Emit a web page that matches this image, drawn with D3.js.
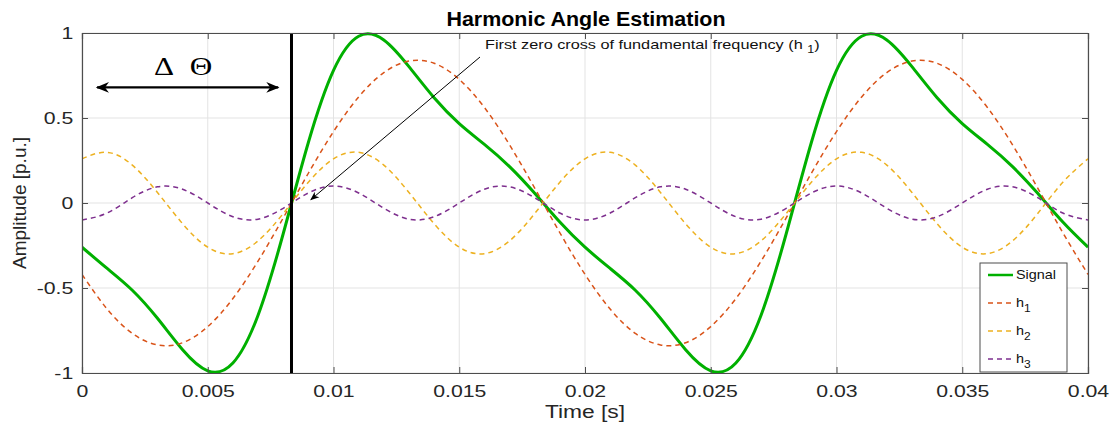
<!DOCTYPE html>
<html>
<head>
<meta charset="utf-8">
<script src="https://cdn.jsdelivr.net/npm/d3@7"></script>
<style>
body { margin: 0; background: #fff; }
text { font-family: "Liberation Sans", Arial, sans-serif; }
</style>
</head>
<body>
<div id="chart"></div>
<script>
// sample times (s), one per ms
const times = d3.range(41).map(k => k / 1000);

// values at each ms
const signal = [-0.26,-0.385,-0.513,-0.678,-0.863,-0.987,-0.941,-0.66,-0.181,0.356,0.78,0.981,0.959,0.802,0.619,0.467,0.345,0.214,0.057,-0.112,
  -0.26,-0.385,-0.513,-0.678,-0.863,-0.987,-0.941,-0.66,-0.181,0.356,0.78,0.981,0.959,0.802,0.619,0.467,0.345,0.214,0.057,-0.112,-0.26];
const h1 = [-0.42,-0.624,-0.767,-0.835,-0.822,-0.727,-0.562,-0.342,-0.088,0.175,0.42,0.624,0.767,0.835,0.822,0.727,0.562,0.342,0.088,-0.175,
  -0.42,-0.624,-0.767,-0.835,-0.822,-0.727,-0.562,-0.342,-0.088,0.175,0.42,0.624,0.767,0.835,0.822,0.727,0.562,0.342,0.088,-0.175,-0.42];
const h2 = [0.26,0.298,0.223,0.062,-0.122,-0.26,-0.298,-0.223,-0.062,0.122,0.26,0.298,0.223,0.062,-0.122,-0.26,-0.298,-0.223,-0.062,0.122,
  0.26,0.298,0.223,0.062,-0.122,-0.26,-0.298,-0.223,-0.062,0.122,0.26,0.298,0.223,0.062,-0.122,-0.26,-0.298,-0.223,-0.062,0.122,0.26];
const h3 = [-0.1,-0.059,0.031,0.095,0.081,0,-0.081,-0.095,-0.031,0.059,0.1,0.059,-0.031,-0.095,-0.081,0,0.081,0.095,0.031,-0.059,
  -0.1,-0.059,0.031,0.095,0.081,0,-0.081,-0.095,-0.031,0.059,0.1,0.059,-0.031,-0.095,-0.081,0,0.081,0.095,0.031,-0.059,-0.1];

const xTicks = [0, 0.005, 0.01, 0.015, 0.02, 0.025, 0.03, 0.035, 0.04];
const yTicks = [-1, -0.5, 0, 0.5, 1];
const zeroCross = 0.00833;

const series = [
  { name: "Signal", sub: "", values: signal, color: "#00b000", width: 3, dash: null },
  { name: "h", sub: "1", values: h1, color: "#D95319", width: 1.5, dash: "5,4" },
  { name: "h", sub: "2", values: h2, color: "#EDB120", width: 1.5, dash: "5,4" },
  { name: "h", sub: "3", values: h3, color: "#7E2F8E", width: 1.5, dash: "5,4" }
];

const W = 1117, H = 426;
const m = { left: 82, right: 29, top: 33, bottom: 53 };
const stretch = 1.25; // the original text is wider than it is tall

const svg = d3.select("#chart").append("svg")
  .attr("width", W).attr("height", H);

const x = d3.scaleLinear().domain([0, 0.04]).range([m.left, W - m.right]);
const y = d3.scaleLinear().domain([-1, 1]).range([H - m.bottom, m.top]);

// grid
svg.append("g").selectAll("line").data(xTicks).enter().append("line")
  .attr("x1", d => x(d)).attr("x2", d => x(d))
  .attr("y1", y(-1)).attr("y2", y(1))
  .style("stroke", "#e3e3e3");
svg.append("g").selectAll("line").data(yTicks).enter().append("line")
  .attr("x1", x(0)).attr("x2", x(0.04))
  .attr("y1", d => y(d)).attr("y2", d => y(d))
  .style("stroke", "#e3e3e3");

// curves
svg.append("clipPath").attr("id", "clip").append("rect")
  .attr("x", x(0)).attr("y", y(1) - 2).attr("width", x(0.04) - x(0)).attr("height", y(-1) - y(1) + 4);

const line = d3.line()
  .x((d, i) => x(times[i]))
  .y(d => y(d))
  .curve(d3.curveNatural);

const plot = svg.append("g").attr("clip-path", "url(#clip)");
series.forEach(s => {
  plot.append("path")
    .attr("d", line(s.values))
    .style("fill", "none")
    .style("stroke", s.color)
    .style("stroke-width", s.width)
    .style("stroke-dasharray", s.dash);
});

// zero-cross marker line
svg.append("line")
  .attr("x1", x(zeroCross)).attr("x2", x(zeroCross))
  .attr("y1", y(1)).attr("y2", y(-1))
  .style("stroke", "#000").style("stroke-width", 3);

// axes
const axisColor = "#262626";
const xAxis = svg.append("g").attr("transform", `translate(0,${y(-1)})`)
  .call(d3.axisBottom(x).tickValues(xTicks).tickSize(-6).tickPadding(12).tickFormat(d => String(+d.toFixed(3))));
const xAxisTop = svg.append("g").attr("transform", `translate(0,${y(1)})`)
  .call(d3.axisTop(x).tickValues(xTicks).tickSize(-6).tickFormat(""));
const yAxis = svg.append("g").attr("transform", `translate(${x(0)},0)`)
  .call(d3.axisLeft(y).tickValues(yTicks).tickSize(-6).tickPadding(7).tickFormat(d => String(d)));
const yAxisR = svg.append("g").attr("transform", `translate(${x(0.04)},0)`)
  .call(d3.axisRight(y).tickValues(yTicks).tickSize(-6).tickFormat(""));

[xAxis, xAxisTop, yAxis, yAxisR].forEach(a => {
  a.select(".domain").style("stroke", "#4d4d4d").style("stroke-width", 1.2);
  a.selectAll(".tick line").style("stroke", "#4d4d4d");
  a.selectAll("text").style("font-size", "17px").style("fill", axisColor)
    .style("font-family", "'Liberation Sans', Arial, sans-serif")
    .attr("transform", `scale(${stretch},1)`);
});

// labels
svg.append("text").attr("transform", "translate(586,26) scale(1.1,1)").attr("text-anchor", "middle")
  .style("font-size", "19.5px").style("font-weight", "bold").text("Harmonic Angle Estimation");
svg.append("text").attr("transform", `translate(${(x(0) + x(0.04)) / 2},418) scale(1.2,1)`).attr("text-anchor", "middle")
  .style("font-size", "19px").style("fill", axisColor).text("Time [s]");
svg.append("text").attr("transform", `translate(26,${(y(1) + y(-1)) / 2}) rotate(-90)`)
  .attr("text-anchor", "middle").style("font-size", "19px").style("fill", axisColor).text("Amplitude [p.u.]");

// delta theta arrow
const defs = svg.append("defs");
defs.append("marker").attr("id", "ah").attr("viewBox", "0 0 10 10").attr("refX", 9).attr("refY", 5)
  .attr("markerWidth", 8).attr("markerHeight", 6).attr("orient", "auto-start-reverse")
  .append("path").attr("d", "M0,1 L10,5 L0,9 L3,5 Z").style("fill", "#000");

svg.append("line")
  .attr("x1", x(0.0006)).attr("x2", x(0.0078)).attr("y1", y(0.68)).attr("y2", y(0.68))
  .style("stroke", "#000").style("stroke-width", 2.2)
  .attr("marker-start", "url(#ah)").attr("marker-end", "url(#ah)");
[["\u0394", 164], ["\u0398", 201]].forEach(([ch, cx]) => {
  svg.append("text").attr("transform", `translate(${cx},75) scale(1.2,1)`).attr("text-anchor", "middle")
    .style("font-family", "'Liberation Serif', 'DejaVu Serif', serif").style("font-size", "26px")
    .text(ch);
});

// annotation
defs.append("marker").attr("id", "ah2").attr("viewBox", "0 0 10 10").attr("refX", 9).attr("refY", 5)
  .attr("markerWidth", 12).attr("markerHeight", 9).attr("orient", "auto")
  .attr("markerUnits", "userSpaceOnUse")
  .append("path").attr("d", "M0,1 L10,5 L0,9 L3,5 Z").style("fill", "#000");
svg.append("line")
  .attr("x1", 480).attr("y1", 57).attr("x2", x(0.0091)).attr("y2", y(0.02))
  .style("stroke", "#000").style("stroke-width", 1).attr("marker-end", "url(#ah2)");
const ann = svg.append("text").attr("transform", `translate(485,49) scale(${stretch},1)`)
  .style("font-size", "13px").style("fill", "#111");
ann.append("tspan").text("First zero cross of fundamental frequency (h ");
ann.append("tspan").attr("dy", 4).style("font-size", "10px").text("1");
ann.append("tspan").attr("dy", -4).text(")");

// legend
const lg = svg.append("g").attr("transform", "translate(980,263)");
lg.append("rect").attr("width", 87).attr("height", 109)
  .style("fill", "#fff").style("stroke", "#4d4d4d").style("stroke-width", 1);
series.forEach((s, i) => {
  const yy = 12 + i * 28;
  lg.append("line").attr("x1", 8).attr("x2", 33).attr("y1", yy).attr("y2", yy)
    .style("stroke", s.color).style("stroke-width", s.dash ? 1.5 : 2.5)
    .style("stroke-dasharray", s.dash);
  const t = lg.append("text").attr("transform", `translate(36,${yy + 4}) scale(1.2,1)`)
    .style("font-size", "12px").style("fill", "#111");
  t.append("tspan").text(s.name);
  if (s.sub) t.append("tspan").attr("dy", 5).style("font-size", "10px").text(s.sub);
});
</script>
</body>
</html>
